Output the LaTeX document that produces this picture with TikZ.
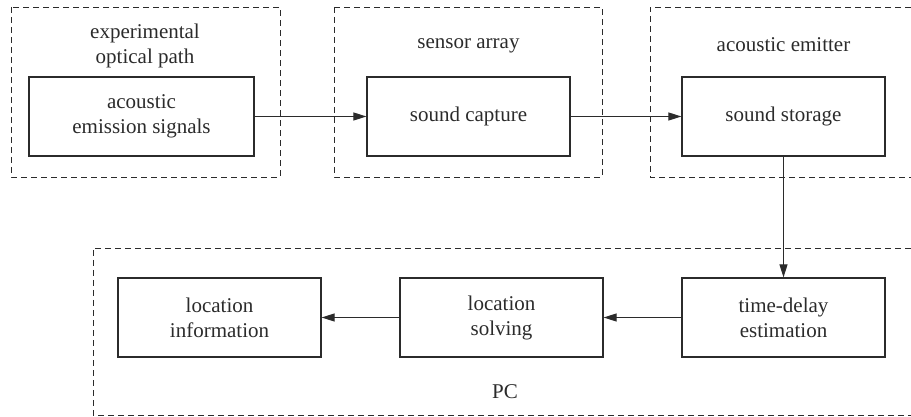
\documentclass[tikz,border=0pt]{standalone}
\usepackage{fontspec}
\setmainfont{Liberation Serif}
\usetikzlibrary{arrows.meta}
\definecolor{ink}{HTML}{2B2B2B}
\begin{document}
\begin{tikzpicture}[x=1pt,y=-1pt,
  txt/.style={text=ink, align=center, inner sep=0pt, font=\fontsize{21}{25}\selectfont},
  proc/.style={txt, draw=ink, line width=1.2pt, minimum width=203pt, minimum height=79pt},
  group/.style={draw=ink, line width=0.9pt, dash pattern=on 6pt off 4pt},
  flow/.style={draw=ink, line width=1.1pt, -{Triangle[length=13pt,width=8pt]}}]
\useasboundingbox (0,0) rectangle (911,417);

% dashed groups
\draw[group] (11,7) rectangle (280,177);
\draw[group] (334,7) rectangle (602,177);
\draw[group] (911,7) -| (650,177) -- (911,177);
\draw[group] (911,248) -| (93,415) -- (911,415);

% group titles
\node[txt] (t1) at (145,46) {experimental\\optical path};
\node[txt] (t2) at (468.5,46) {sensor array};
\node[txt] (t3) at (783.5,45) {acoustic emitter};
\node[txt] (t4) at (505,392) {PC};

% processing blocks
\node[proc, minimum width=225pt] (src) at (141.5,116.5) {acoustic\\emission signals};
\node[proc] (cap) at (468.5,116.5) {sound capture};
\node[proc] (sto) at (783.5,116.5) {sound storage};
\node[proc] (tde) at (783.5,317.5) {time-delay\\estimation};
\node[proc] (sol) at (501.5,317.5) {location\\solving};
\node[proc] (inf) at (219.5,317.5) {location\\information};

% signal flow
\draw[flow] (src) -- (cap);
\draw[flow] (cap) -- (sto);
\draw[flow] (sto) -- (tde);
\draw[flow] (tde) -- (sol);
\draw[flow] (sol) -- (inf);
\end{tikzpicture}
\end{document}
